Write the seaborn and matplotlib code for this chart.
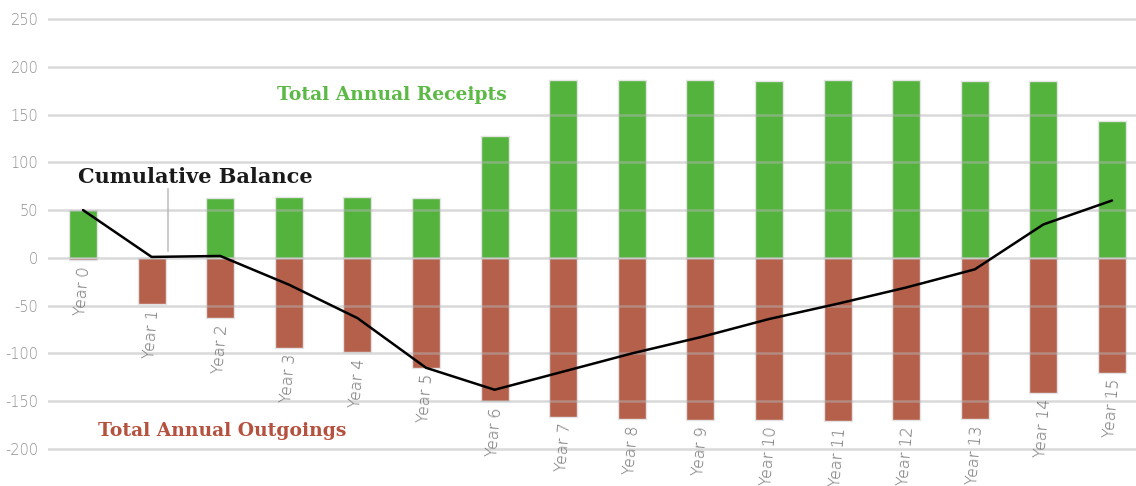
import numpy as np
import pandas as pd
import matplotlib
matplotlib.use("Agg")
import matplotlib.pyplot as plt
import seaborn as sns

years = [f"Year {i}" for i in range(16)]
receipts = [50, 0, 63, 64, 64, 63, 128, 186, 186, 186, 185, 186, 186, 185, 185, 143]
outgoings = [-2, -48, -63, -94, -99, -115, -150, -166, -169, -170, -170, -171, -170, -169, -141, -120]
balance = [50, 1, 2, -28, -63, -115, -138, -119, -100, -83, -64, -48, -31, -12, 35, 60]
yticks = [-200, -150, -100, -50, 0, 50, 100, 150, 200, 250]

GREEN = "#53B33D"
RED = "#B5604B"
GRID = "#b4b4b4"
TICK = "#8f8f8f"

sns.set_theme(style="white")
plt.rcParams["font.family"] = ["DejaVu Serif", "DejaVu Sans"]

fig = plt.figure(figsize=(11.36, 4.86), dpi=100)
ax = fig.add_axes([0.0423, 0.0663, 0.9577, 0.9045])

df = pd.DataFrame({"year": years, "receipts": receipts, "outgoings": outgoings})
sns.barplot(data=df, x="year", y="receipts", color=GREEN, width=0.41, saturation=1,
            edgecolor="#e4e4e4", linewidth=1, ax=ax, zorder=2)
sns.barplot(data=df, x="year", y="outgoings", color=RED, width=0.41, saturation=1,
            edgecolor="#e4e4e4", linewidth=1, ax=ax, zorder=2)
pos = np.arange(len(years))
sns.lineplot(x=pos, y=balance, color="black", linewidth=1.8, ax=ax, zorder=4)

ax.set_xlim(-0.51, 15.35)
ax.set_ylim(-205, 255)
ax.set_yticks(yticks)
ax.set_yticklabels([str(t) for t in yticks], color=TICK, fontsize=10.5,
                   family=["DejaVu Sans"], fontweight=200)
ax.tick_params(axis="y", length=0, pad=7)
ax.set_xticks([])
ax.set_xlabel("")
ax.set_ylabel("")
for s in ax.spines.values():
    s.set_visible(False)
ax.set_axisbelow(False)
ax.yaxis.grid(True, color=GRID, linewidth=1.8, alpha=0.5, zorder=3)
ax.xaxis.grid(False)

# year labels just under each bar end
for i, (yr, o) in enumerate(zip(years, outgoings)):
    ax.text(i, min(o, 0) - 6, yr, rotation=85, ha="center", va="top",
            fontsize=11.5, color="#707070", family=["DejaVu Sans"], fontweight=200,
            zorder=5)

# annotation pointer
ax.plot([1.24, 1.24], [72, 7], color="#cccccc", linewidth=1.5, zorder=1)

ax.text(4.5, 170, "Total Annual Receipts", color="#5BBA45", fontsize=13.5,
        fontweight="bold", ha="center", va="center")
ax.text(1.63, 85, "Cumulative Balance", color="#1a1a1a", fontsize=15,
        fontweight="bold", ha="center", va="center")
ax.text(2.03, -181, "Total Annual Outgoings", color="#B5513F", fontsize=13.5,
        fontweight="bold", ha="center", va="center")

fig.savefig("out.png", dpi=100)
